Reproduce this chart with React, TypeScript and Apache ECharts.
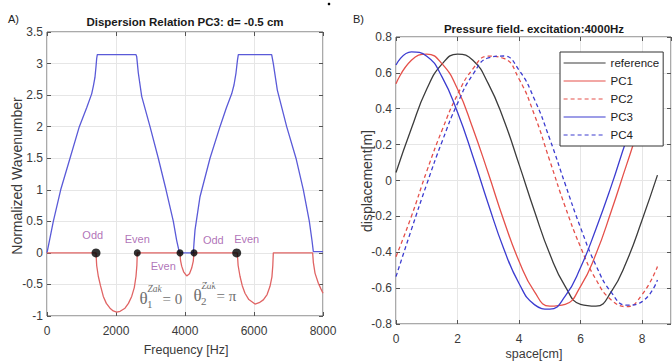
import React, { useEffect, useRef } from "react";
import * as echarts from "echarts";

// ---------- Panel A: dispersion relation ----------
const freqBlue = [0, 183, 397, 667, 937, 1150, 1295, 1342, 1390, 1420, 1440, 1458, 2580, 2600, 2647, 2745, 2986, 3226, 3450, 3662, 3758, 3810, 3840, 4241, 4260, 4290, 4435, 4725, 5014, 5200, 5353, 5420, 5478, 5520, 5546, 6512, 6560, 6676, 6947, 7217, 7430, 7604, 7680, 7720, 8000];
const waveBlue = [0, 0.5, 1.0, 1.5, 2.0, 2.3, 2.52, 2.64, 2.78, 2.95, 3.08, 3.14, 3.14, 3.11, 2.85, 2.48, 2.0, 1.5, 1.0, 0.5, 0.2, 0.07, 0, 0, 0.15, 0.36, 0.89, 1.5, 2.0, 2.3, 2.52, 2.66, 2.85, 3.05, 3.14, 3.14, 3.0, 2.58, 2.0, 1.5, 1.0, 0.5, 0.2, 0.02, 0.02];

const freqRed = [0, 1420, 1440, 1487, 1550, 1632, 1720, 1826, 1920, 2020, 2120, 2261, 2360, 2455, 2530, 2580, 2605, 2617, 3855, 3870, 3904, 3960, 4049, 4130, 4194, 4240, 4261, 5516, 5540, 5594, 5660, 5739, 5850, 6029, 6150, 6270, 6380, 6464, 6520, 6545, 6560, 7700, 7720, 7768, 7865, 7940, 8000];
const waveRed = [0, 0, -0.2, -0.37, -0.52, -0.69, -0.8, -0.876, -0.92, -0.94, -0.925, -0.876, -0.8, -0.69, -0.55, -0.37, -0.2, 0, 0, -0.12, -0.21, -0.3, -0.365, -0.33, -0.24, -0.13, 0, 0, -0.2, -0.37, -0.52, -0.64, -0.74, -0.81, -0.79, -0.745, -0.66, -0.53, -0.38, -0.2, 0, 0, -0.15, -0.32, -0.48, -0.57, -0.64];

const dotFreq = [1420, 2617, 3855, 4261, 5498];
const dotSize = [9, 7, 7, 7, 9];

const labelFreq = [1325, 2617, 3371, 4820, 5788];
const labelVal = [0.285, 0.217, -0.206, 0.206, 0.217];
const labelText = ["Odd", "Even", "Even", "Odd", "Even"];

const freqTicks = { min: 0, max: 8000, interval: 2000 };
const waveTicks = { min: -1, max: 3.5, interval: 0.5 };

// ---------- Panel B: pressure field ----------
const space = [0, 0.5, 1, 1.5, 2, 2.5, 3, 3.5, 4, 4.5, 5, 5.5, 6, 6.5, 7, 7.5, 8, 8.5];
const refVals = [0.045, 0.29, 0.51, 0.65, 0.705, 0.67, 0.54, 0.34, 0.09, -0.17, -0.41, -0.59, -0.69, -0.70, -0.62, -0.45, -0.22, 0.03];
const pc1Vals = [0.54, 0.67, 0.705, 0.65, 0.51, 0.29, 0.04, -0.22, -0.45, -0.62, -0.70, -0.69, -0.59, -0.41, -0.17, 0.09, 0.34, 0.54];
const pc2Vals = [-0.425, -0.2, 0.052, 0.282, 0.479, 0.622, 0.693, 0.681, 0.566, 0.366, 0.11, -0.146, -0.371, -0.552, -0.666, -0.703, -0.636, -0.48];
const pc3Vals = [0.644, 0.717, 0.693, 0.576, 0.38, 0.134, -0.131, -0.379, -0.574, -0.692, -0.717, -0.645, -0.485, -0.27, -0.03, 0.23, 0.46, 0.63];
const pc4Vals = [-0.536, -0.274, -0.02, 0.218, 0.43, 0.591, 0.683, 0.694, 0.615, 0.453, 0.231, -0.02, -0.263, -0.473, -0.624, -0.695, -0.675, -0.555];

const spaceTicks = { min: 0, max: 8.94, interval: 2 };
const dispTicks = { min: -0.8, max: 0.8, interval: 0.2 };

const FONT = "Liberation Sans, Arial, sans-serif";
const SERIF = "Liberation Serif, DejaVu Serif, serif";
const TICK_COLOR = "#3a3a3a";
const GRID_COLOR = "#e6e6e6";
const PURPLE = "#9c4ea6";

const zip = (xs: number[], ys: number[]) => xs.map((x, i) => [x, ys[i]]);
const plain = (v: number) => String(Math.round(v * 1000) / 1000);

const tickStyle = { show: true, inside: true, length: 4, lineStyle: { color: "#555" } };
const noLine = { show: false, onZero: false };

function mainX(gridIndex: number, t: any, showMax: boolean) {
  return {
    type: "value",
    gridIndex,
    position: "bottom",
    min: t.min,
    max: t.max,
    interval: t.interval,
    axisLine: noLine,
    axisTick: tickStyle,
    axisLabel: { color: TICK_COLOR, fontSize: 12, fontFamily: FONT, margin: 9, showMaxLabel: showMax, formatter: plain },
    splitLine: { show: true, lineStyle: { color: GRID_COLOR, width: 1 } },
  };
}
function mirrorX(gridIndex: number, t: any) {
  return {
    type: "value",
    gridIndex,
    position: "top",
    min: t.min,
    max: t.max,
    interval: t.interval,
    axisLine: noLine,
    axisTick: tickStyle,
    axisLabel: { show: false },
    splitLine: { show: false },
  };
}
function mainY(gridIndex: number, t: any) {
  return {
    type: "value",
    gridIndex,
    position: "left",
    min: t.min,
    max: t.max,
    interval: t.interval,
    axisLine: noLine,
    axisTick: tickStyle,
    axisLabel: { color: TICK_COLOR, fontSize: 12, fontFamily: FONT, margin: 4, formatter: plain },
    splitLine: { show: true, lineStyle: { color: GRID_COLOR, width: 1 } },
  };
}
function mirrorY(gridIndex: number, t: any) {
  return {
    type: "value",
    gridIndex,
    position: "right",
    min: t.min,
    max: t.max,
    interval: t.interval,
    axisLine: noLine,
    axisTick: tickStyle,
    axisLabel: { show: false },
    splitLine: { show: false },
  };
}

function lineSeries(name: string, xs: number[], ys: number[], color: string, dashed: boolean, xi: number, yi: number, smooth: boolean) {
  return {
    type: "line",
    name,
    xAxisIndex: xi,
    yAxisIndex: yi,
    data: zip(xs, ys),
    smooth,
    symbol: "none",
    showSymbol: false,
    lineStyle: { color, width: 1.3, type: dashed ? [4, 3] : "solid" },
    itemStyle: { color },
    z: 3,
  };
}

function thetaGroup(x: number, y: number, sub: string, rhs: string) {
  const c = "#6e6e6e";
  return [
    { type: "text", x, y, style: { text: "θ", fontSize: 17, fontFamily: SERIF, fill: c, align: "center", verticalAlign: "middle", textAlign: "center", textVerticalAlign: "middle" } },
    { type: "text", x: x + 4, y: y - 10, style: { text: "Zak", fontSize: 9.5, fontStyle: "italic", fontFamily: SERIF, fill: c, align: "left", verticalAlign: "middle", textAlign: "left", textVerticalAlign: "middle" } },
    { type: "text", x: x + 3.5, y: y + 5, style: { text: sub, fontSize: 11, fontFamily: SERIF, fill: c, align: "left", verticalAlign: "middle", textAlign: "left", textVerticalAlign: "middle" } },
    { type: "text", x: x + 19, y: y, style: { text: rhs, fontSize: 15, fontFamily: SERIF, fill: c, align: "left", verticalAlign: "middle", textAlign: "left", textVerticalAlign: "middle" } },
  ];
}

export default function App() {
  const ref = useRef<HTMLDivElement>(null);

  useEffect(() => {
    if (!ref.current) return;
    const chart = echarts.init(ref.current, undefined, { renderer: "svg" });

    const option: any = {
      animation: false,
      backgroundColor: "#ffffff",
      textStyle: { fontFamily: FONT },
      grid: [
        { left: 47, top: 32, width: 276, height: 284, show: true, borderColor: "#555", borderWidth: 1, backgroundColor: "transparent" },
        { left: 396, top: 37, width: 275, height: 287, show: true, borderColor: "#555", borderWidth: 1, backgroundColor: "transparent" },
      ],
      xAxis: [mainX(0, freqTicks, true), mirrorX(0, freqTicks), mainX(1, spaceTicks, false), mirrorX(1, spaceTicks)],
      yAxis: [mainY(0, waveTicks), mirrorY(0, waveTicks), mainY(1, dispTicks), mirrorY(1, dispTicks)],
      legend: {
        left: 560,
        top: 52,
        orient: "vertical",
        data: ["reference", "PC1", "PC2", "PC3", "PC4"],
        itemWidth: 42,
        itemHeight: 14,
        itemGap: 6,
        padding: [5, 4, 5, 3],
        backgroundColor: "#ffffff",
        borderColor: "#333",
        borderWidth: 1,
        selectedMode: false,
        itemStyle: { opacity: 0, borderWidth: 0 },
        lineStyle: { width: 1.2 },
        textStyle: { fontSize: 11.5, fontFamily: FONT, color: "#222" },
      },
      series: [
        lineSeries("real", freqBlue, waveBlue, "#5a5ad8", false, 0, 0, false),
        lineSeries("imag", freqRed, waveRed, "#e06464", false, 0, 0, false),
        {
          type: "scatter",
          name: "points",
          xAxisIndex: 0,
          yAxisIndex: 0,
          data: dotFreq.map((f, i) => ({ value: [f, 0], symbolSize: dotSize[i] })),
          itemStyle: { color: "#000" },
          z: 5,
        },
        {
          type: "scatter",
          name: "labels",
          xAxisIndex: 0,
          yAxisIndex: 0,
          symbolSize: 1,
          itemStyle: { color: "rgba(0,0,0,0)" },
          data: labelFreq.map((f, i) => ({ value: [f, labelVal[i]], name: labelText[i] })),
          label: { show: true, position: "inside", formatter: (p: any) => p.name, color: PURPLE, fontSize: 11, fontFamily: FONT },
          z: 6,
        },
        lineSeries("reference", space, refVals, "#3c3c3c", false, 2, 2, true),
        lineSeries("PC1", space, pc1Vals, "#e5504a", false, 2, 2, true),
        lineSeries("PC2", space, pc2Vals, "#e5504a", true, 2, 2, true),
        lineSeries("PC3", space, pc3Vals, "#3c3cd0", false, 2, 2, true),
        lineSeries("PC4", space, pc4Vals, "#3c3cd0", true, 2, 2, true),
      ],
      graphic: [
        { type: "text", x: 8, y: 13, style: { text: "A)", fontSize: 11, fontFamily: FONT, fill: "#222" } },
        { type: "text", x: 353, y: 13, style: { text: "B)", fontSize: 11, fontFamily: FONT, fill: "#222" } },
        { type: "circle", shape: { cx: 329, cy: 4, r: 1.3 }, style: { fill: "#000" } },
        { type: "text", x: 185, y: 21.5, style: { text: "Dispersion Relation PC3: d= -0.5 cm", fontSize: 11.5, fontWeight: "bold", fontFamily: FONT, fill: "#1a1a1a", align: "center", verticalAlign: "middle", textAlign: "center", textVerticalAlign: "middle" } },
        { type: "text", x: 534, y: 28.5, style: { text: "Pressure field- excitation:4000Hz", fontSize: 11.5, fontWeight: "bold", fontFamily: FONT, fill: "#1a1a1a", align: "center", verticalAlign: "middle", textAlign: "center", textVerticalAlign: "middle" } },
        { type: "text", x: 17, y: 176, rotation: Math.PI / 2, style: { text: "Normalized Wavenumber", fontSize: 14, fontFamily: FONT, fill: "#3a3a3a", align: "center", verticalAlign: "middle", textAlign: "center", textVerticalAlign: "middle" } },
        { type: "text", x: 367, y: 181, rotation: Math.PI / 2, style: { text: "displacement[m]", fontSize: 14, fontFamily: FONT, fill: "#3a3a3a", align: "center", verticalAlign: "middle", textAlign: "center", textVerticalAlign: "middle" } },
        { type: "text", x: 186, y: 350, style: { text: "Frequency [Hz]", fontSize: 12.5, fontFamily: FONT, fill: "#3a3a3a", align: "center", verticalAlign: "middle", textAlign: "center", textVerticalAlign: "middle" } },
        { type: "text", x: 534, y: 354, style: { text: "space[cm]", fontSize: 12.5, fontFamily: FONT, fill: "#3a3a3a", align: "center", verticalAlign: "middle", textAlign: "center", textVerticalAlign: "middle" } },
        ...thetaGroup(143.5, 298.5, "1", "= 0"),
        ...thetaGroup(197.5, 295.5, "2", "= π"),
      ],
    };

    chart.setOption(option);
    return () => chart.dispose();
  }, []);

  return <div ref={ref} style={{ position: "fixed", left: 0, top: 0, width: 672, height: 362 }} />;
}
